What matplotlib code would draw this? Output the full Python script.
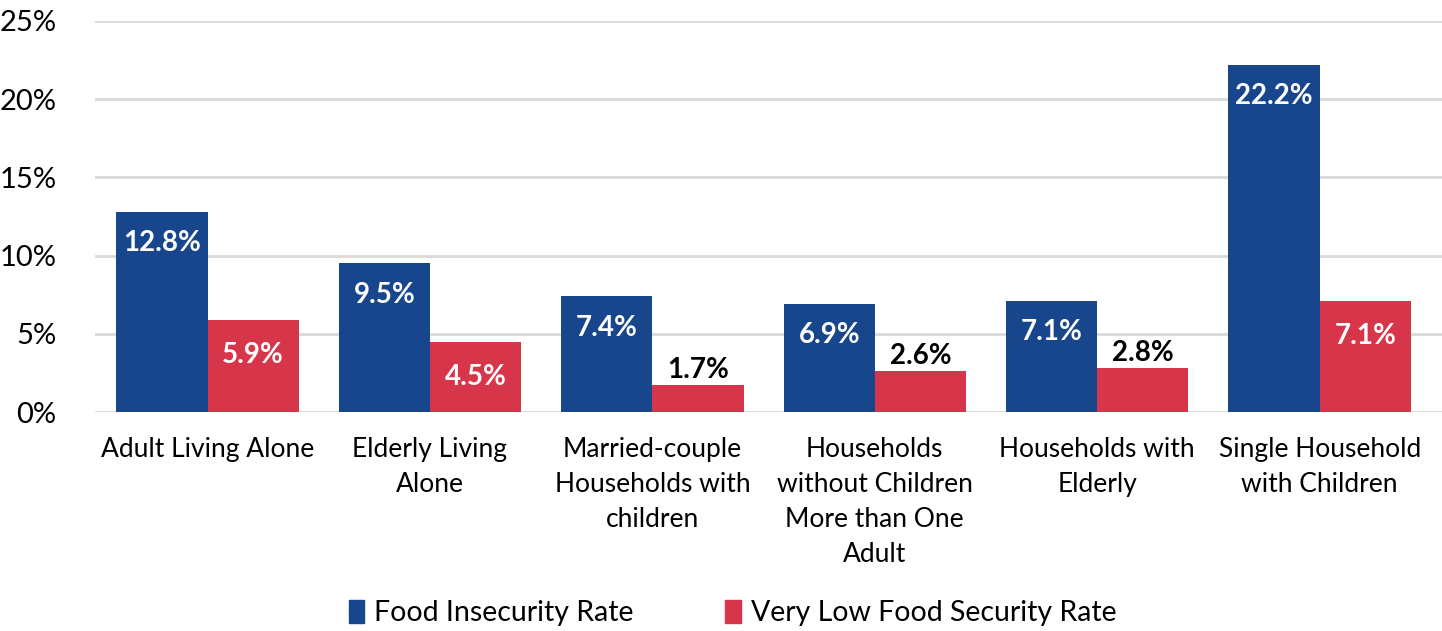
import numpy as np
import matplotlib.pyplot as plt
from matplotlib.patches import Patch

plt.rcParams['font.family'] = ['Lato', 'DejaVu Sans']

categories = ["Adult Living Alone", "Elderly Living\nAlone", "Married-couple\nHouseholds with\nchildren",
              "Households\nwithout Children\nMore than One\nAdult", "Households with\nElderly",
              "Single Household\nwith Children"]
food_insecurity = [12.8, 9.5, 7.4, 6.9, 7.1, 22.2]
very_low = [5.9, 4.5, 1.7, 2.6, 2.8, 7.1]

blue = "#17468C"
red = "#D7364A"

fig = plt.figure(figsize=(14.42, 6.31), dpi=100)
ax = fig.add_axes([0.066, 0.347, 0.934, 0.62])

x = np.arange(len(categories))
w = 0.41
ax.bar(x - w / 2, food_insecurity, w, color=blue, zorder=3)
ax.bar(x + w / 2, very_low, w, color=red, zorder=3)

for xi, v in zip(x, food_insecurity):
    ax.text(xi - w / 2, v - 2.0, f"{v}%", ha="center", va="center", color="white",
            fontsize=20, fontweight="bold", zorder=4)
for xi, v in zip(x, very_low):
    if v >= 4:
        ax.text(xi + w / 2, v - 2.25, f"{v}%", ha="center", va="center", color="white",
                fontsize=20, fontweight="bold", zorder=4)
    else:
        ax.text(xi + w / 2, v + 1.0, f"{v}%", ha="center", va="center", color="black",
                fontsize=20, fontweight="bold", zorder=4)

ax.set_ylim(0, 25)
ax.set_xlim(-0.505, 5.55)
ax.set_yticks(np.arange(0, 26, 5))
ax.set_yticklabels([f"{t}%" for t in range(0, 26, 5)], fontsize=21)
ax.yaxis.grid(True, color="#D9D9D9", linewidth=2)
ax.set_axisbelow(True)
for s in ax.spines.values():
    s.set_visible(False)
ax.tick_params(axis="y", length=0, pad=28)
ax.tick_params(axis="x", length=0, pad=18)
ax.set_xticks(x)
ax.set_xticklabels(categories, fontsize=19, linespacing=1.5, va="top")

handles = [Patch(color=blue, label="Food Insecurity Rate"),
           Patch(color=red, label="Very Low Food Security Rate")]
fig.legend(handles=handles, loc="center", bbox_to_anchor=(0.508, 0.028), ncol=2, frameon=False,
           fontsize=20.5, handlelength=0.55, handleheight=0.85, handletextpad=0.35, columnspacing=3.2)

fig.savefig("out.png", dpi=100)
